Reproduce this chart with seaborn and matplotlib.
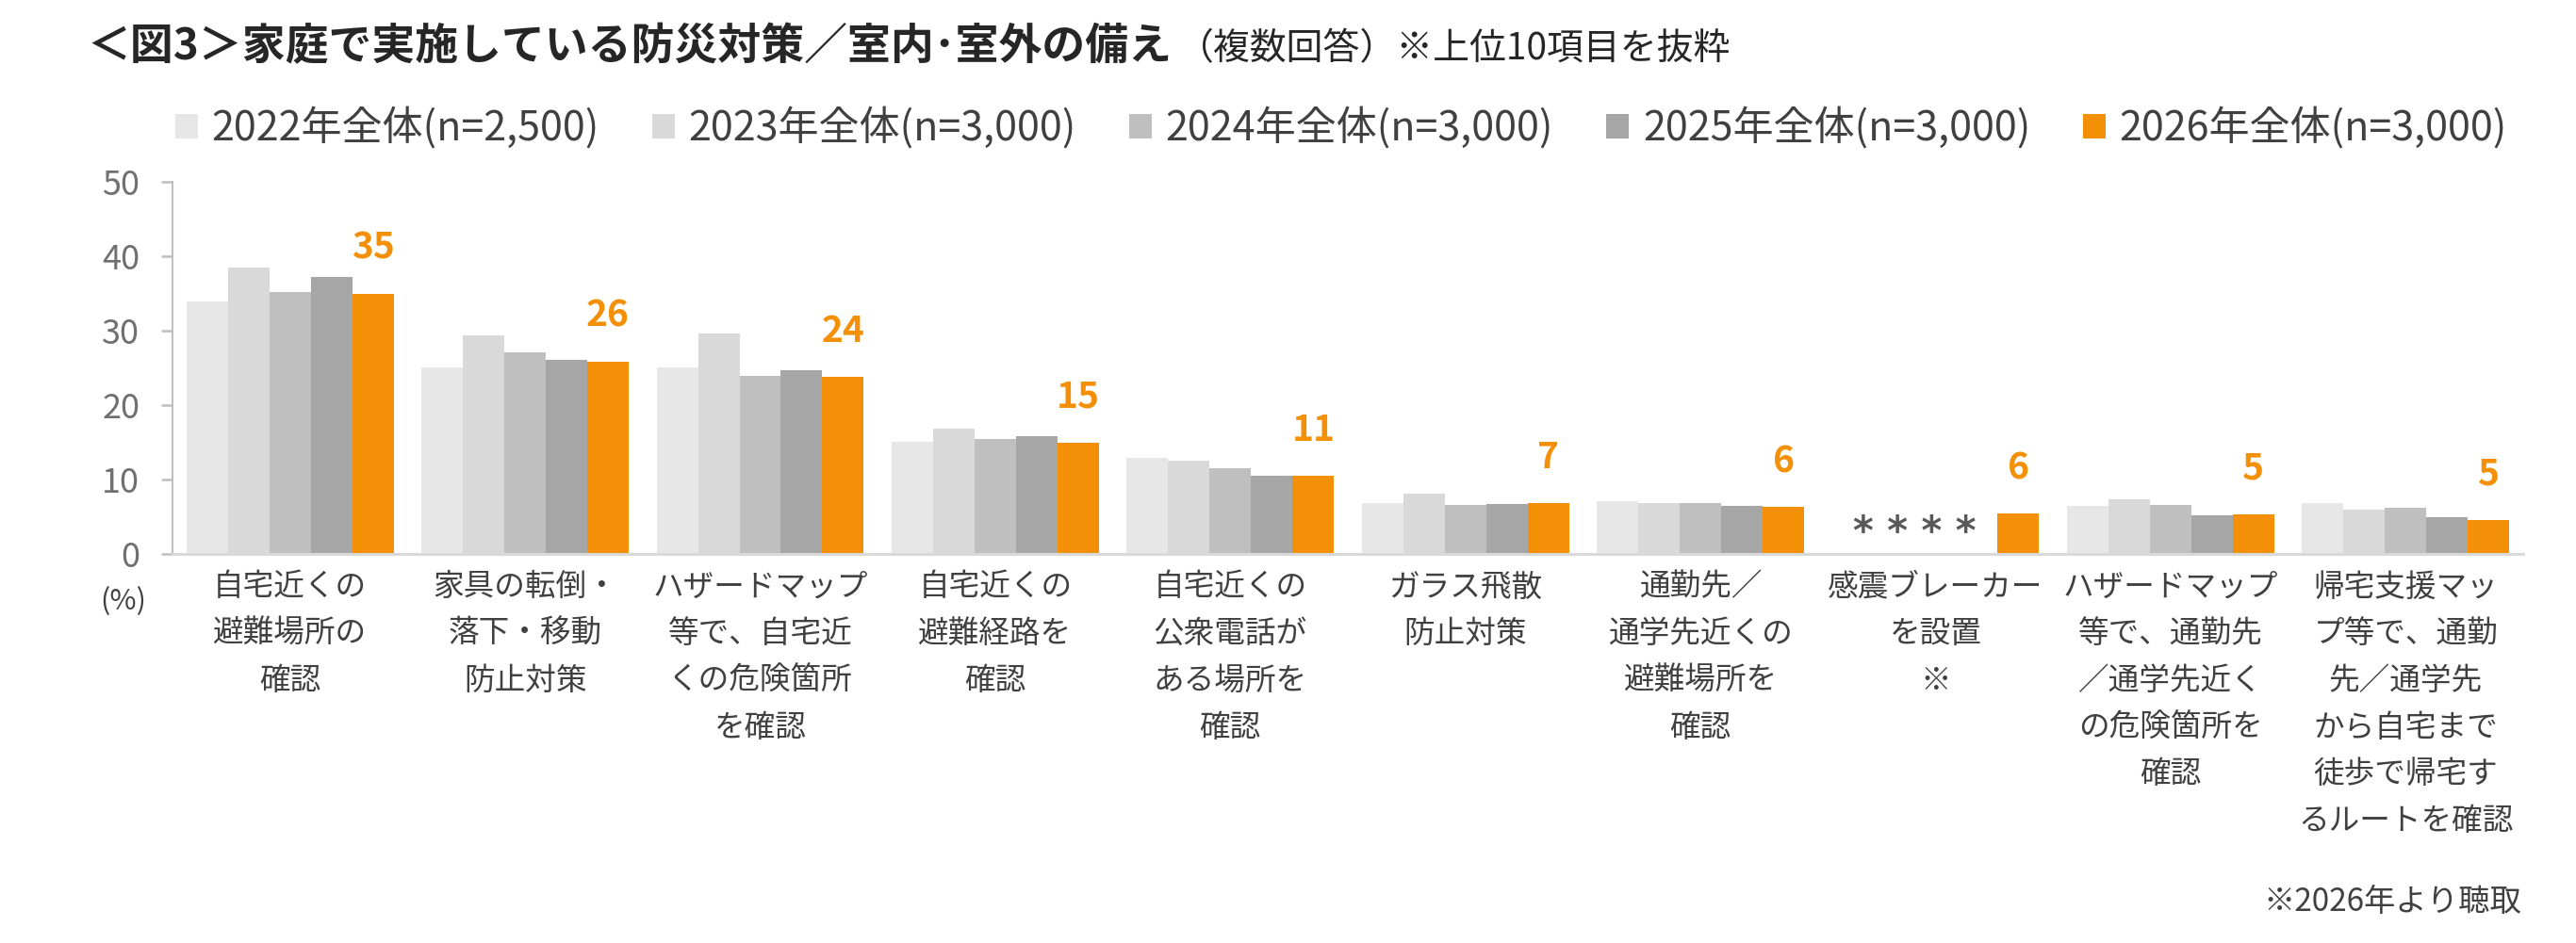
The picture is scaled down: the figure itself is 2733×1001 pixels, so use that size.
import numpy as np
import pandas as pd
import matplotlib
matplotlib.use("Agg")
import matplotlib.pyplot as plt
import seaborn as sns

# ---------------- data ----------------
categories = [
    "自宅近くの\n避難場所の\n確認",
    "家具の転倒・\n落下・移動\n防止対策",
    "ハザードマップ\n等で、自宅近\nくの危険箇所\nを確認",
    "自宅近くの\n避難経路を\n確認",
    "自宅近くの\n公衆電話が\nある場所を\n確認",
    "ガラス飛散\n防止対策",
    "通勤先／\n通学先近くの\n避難場所を\n確認",
    "感震ブレーカー\nを設置\n※",
    "ハザードマップ\n等で、通勤先\n／通学先近く\nの危険箇所を\n確認",
    "帰宅支援マッ\nプ等で、通勤\n先／通学先\nから自宅まで\n徒歩で帰宅す\nるルートを確認",
]
years = [
    "2022年全体(n=2,500)",
    "2023年全体(n=3,000)",
    "2024年全体(n=3,000)",
    "2025年全体(n=3,000)",
    "2026年全体(n=3,000)",
]
nan = np.nan
v2022 = [34.0, 25.1, 25.1, 15.1, 12.9, 6.8, 7.1, nan, 6.4, 6.8]
v2023 = [38.5, 29.4, 29.7, 16.9, 12.5, 8.1, 6.8, nan, 7.3, 6.0]
v2024 = [35.2, 27.1, 24.0, 15.5, 11.5, 6.6, 6.8, nan, 6.6, 6.2]
v2025 = [37.2, 26.1, 24.7, 15.8, 10.5, 6.7, 6.4, nan, 5.2, 4.9]
v2026 = [35.0, 25.9, 23.8, 15.0, 10.5, 6.8, 6.3, 5.4, 5.3, 4.6]
labels_2026 = ["35", "26", "24", "15", "11", "7", "6", "6", "5", "5"]
yticks = [0, 10, 20, 30, 40, 50]
colors = ["#E7E7E7", "#D9D9D9", "#BFBFBF", "#A6A6A6", "#F39007"]

series = [v2022, v2023, v2024, v2025, v2026]
df = pd.DataFrame(
    [(c, y, v) for y, vals in zip(years, series) for c, v in zip(categories, vals)],
    columns=["item", "year", "value"],
)
df_plot = df.dropna()

# ---------------- style ----------------
sns.set_style("white")
plt.rcParams["font.family"] = ["Noto Sans CJK JP", "DejaVu Sans"]

W, H = 2733, 1001
fig = plt.figure(figsize=(W / 100, H / 100), dpi=100)
ax = fig.add_axes([183 / W, 1 - 588 / H, (2677 - 183) / W, (588 - 193.3) / H])

group_w = 0.882
sns.barplot(
    data=df_plot, x="item", y="value", hue="year",
    order=categories, hue_order=years, palette=colors,
    width=group_w, gap=0, saturation=1, errorbar=None, ax=ax,
    linewidth=0,
)

ax.set_xlim(-0.5, len(categories) - 0.5)
ax.set_ylim(0, 50)
ax.set_yticks(yticks)
ax.set_yticklabels([str(t) for t in yticks])
ax.set_xlabel("")
ax.set_ylabel("")

for s in ["top", "right"]:
    ax.spines[s].set_visible(False)
ax.spines["left"].set_color("#BFBFBF")
ax.spines["left"].set_linewidth(1.5)
ax.spines["bottom"].set_color("#D9D9D9")
ax.spines["bottom"].set_linewidth(2.2)

ax.tick_params(axis="y", direction="out", length=9, width=1.8, color="#BFBFBF",
               labelsize=26, labelcolor="#707070", pad=16, left=True)
ax.tick_params(axis="x", length=0, pad=14, labelsize=23.5, labelcolor="#404040")
for lab in ax.get_xticklabels():
    lab.set_linespacing(1.71)
    lab.set_verticalalignment("top")

# value labels on 2026 bars
orange = ax.containers[-1]
ax.bar_label(orange, labels=labels_2026, padding=21, fontsize=28,
             fontweight="bold", color="#F39007")

# asterisks for missing years in 感震ブレーカー
idx_missing = categories.index("感震ブレーカー\nを設置\n※")
bar_w = group_w / len(years)
ax.text(idx_missing - 0.5 * bar_w, 1.3, "* * * *", ha="center", va="baseline",
        fontsize=30, fontweight="bold", color="#595959", family="DejaVu Sans")

# legend
handles, labels = ax.get_legend_handles_labels()
if ax.get_legend() is not None:
    ax.get_legend().remove()
leg_fs = 31
leg_kw = dict(ncol=5, loc="center left", bbox_to_anchor=(186 / W, 1 - 136.5 / H),
              frameon=False, fontsize=leg_fs, handlelength=0.55, handleheight=0.55,
              handletextpad=0.35, borderpad=0, borderaxespad=0, labelcolor="#404040")
leg = fig.legend(handles, labels, columnspacing=1.0, **leg_kw)
fig.canvas.draw()
r = fig.canvas.get_renderer()
tw = np.mean([t.get_window_extent(r).width for t in leg.get_texts()])
leg.remove()
fs_px = leg_fs * 100 / 72
entry = 0.55 * fs_px + 0.35 * fs_px + tw
cs = max((506 - entry) / fs_px, 0.2)
leg = fig.legend(handles, labels, columnspacing=cs, **leg_kw)

# title
title = fig.text(92 / W, 1 - 63 / H, "＜図3＞家庭で実施している防災対策／室内･室外の備え",
                 fontsize=33, fontweight="bold", color="#262626", va="baseline", ha="left")
fig.canvas.draw()
tb = title.get_window_extent(r)
fig.text((tb.x1 + 6) / W, 1 - 63 / H, "（複数回答）※上位10項目を抜粋",
         fontsize=28, color="#262626", va="baseline", ha="left")

# (%) and footnote
fig.text(131 / W, 1 - 639 / H, "(%)", ha="center", va="center", fontsize=22, color="#404040")
fig.text(2675 / W, 1 - 957 / H, "※2026年より聴取", ha="right", va="center",
         fontsize=24, color="#404040")

fig.savefig("out.png", dpi=100, facecolor="white")
